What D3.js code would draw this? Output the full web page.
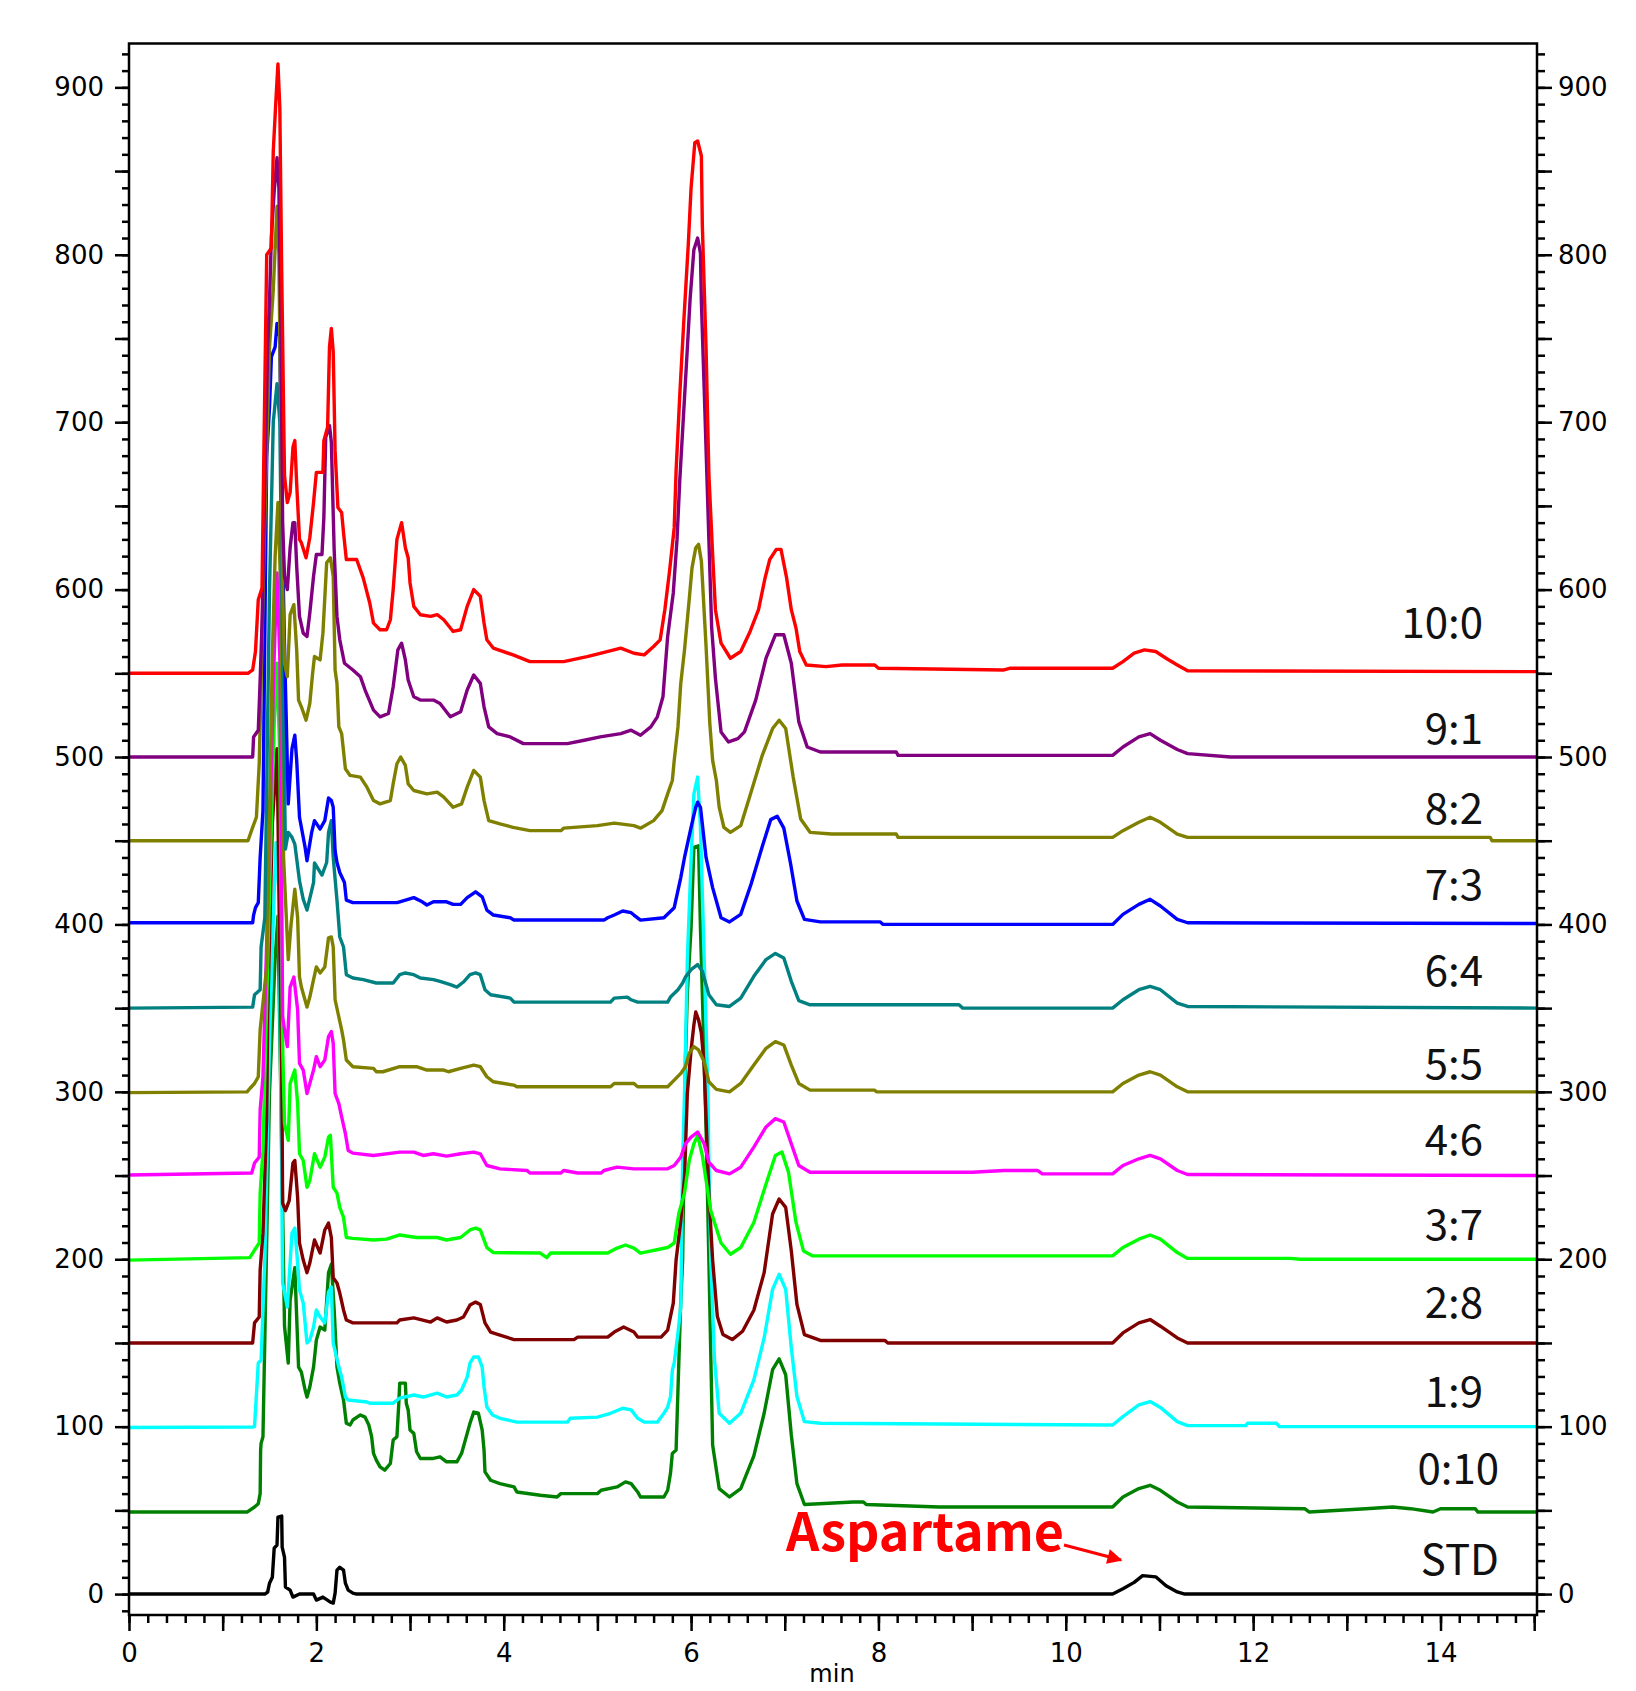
<!DOCTYPE html>
<html>
<head>
<meta charset="utf-8">
<script src="https://cdn.jsdelivr.net/npm/d3@7"></script>
<style>
  body { margin: 0; background: white; }
  svg { display: block; }
</style>
</head>
<body>
<script>
// Chromatogram data: [time (min), signal] for each sample, offset by 50 per trace

const t10_0 = [[0,550],[1.27,550],[1.32,552],[1.35,563],[1.38,594],[1.42,601],[1.44,683],[1.47,800],[1.52,804],[1.54,862],[1.57,894],[1.59,914],[1.61,888],[1.63,790],[1.66,668],[1.69,652],[1.72,658],[1.75,685],[1.77,689],[1.79,663],[1.82,630],[1.84,628],[1.89,619],[1.93,631],[1.97,652],[2.0,670],[2.07,670],[2.08,689],[2.12,697],[2.14,745],[2.16,756],[2.18,742],[2.2,683],[2.23,649],[2.27,646],[2.29,634],[2.32,618],[2.43,618],[2.5,607],[2.57,592],[2.61,580],[2.68,576],[2.75,576],[2.79,582],[2.82,600],[2.86,630],[2.91,640],[2.95,625],[2.98,619],[3.0,604],[3.04,590],[3.11,585],[3.22,584],[3.29,585],[3.36,582],[3.46,575],[3.54,576],[3.61,590],[3.68,600],[3.75,596],[3.79,580],[3.82,570],[3.89,565],[4.1,561],[4.28,557],[4.64,557],[4.89,560],[5.04,562],[5.25,565],[5.39,562],[5.5,561],[5.6,566],[5.67,570],[5.72,588],[5.77,611],[5.82,637],[5.84,671],[5.88,717],[5.92,758],[5.97,806],[6.0,840],[6.04,867],[6.07,868],[6.11,859],[6.12,818],[6.16,744],[6.19,669],[6.23,621],[6.26,588],[6.32,568],[6.42,559],[6.53,563],[6.63,575],[6.72,588],[6.79,607],[6.84,618],[6.91,624],[6.96,624],[7.02,607],[7.07,588],[7.12,577],[7.16,563],[7.23,555],[7.44,554],[7.61,555],[7.96,555],[8.0,553],[9.34,552],[9.4,553],[10.5,553],[10.61,557],[10.73,562],[10.84,564],[10.96,563],[11.07,559],[11.19,555],[11.3,551.5],[15.1,551]];

const t9_1 = [[0,500],[1.32,500],[1.33,512],[1.38,516],[1.4,546],[1.42,580],[1.48,745],[1.5,773],[1.52,811],[1.55,838],[1.58,858],[1.6,840],[1.62,760],[1.64,640],[1.66,608],[1.69,600],[1.72,625],[1.75,640],[1.77,640],[1.79,614],[1.82,584],[1.86,574],[1.9,572],[1.93,586],[1.97,608],[2.0,621],[2.06,621],[2.08,643],[2.1,691],[2.14,698],[2.16,688],[2.19,624],[2.22,584],[2.25,570],[2.3,556],[2.39,552],[2.47,548],[2.52,540],[2.61,528],[2.68,524],[2.77,526],[2.82,542],[2.87,564],[2.91,568],[2.95,558],[2.98,546],[3.04,536],[3.11,534],[3.25,534],[3.32,532],[3.43,524],[3.54,527],[3.61,540],[3.68,549],[3.75,544],[3.79,530],[3.84,518],[3.93,514],[4.07,512],[4.21,508],[4.68,508],[4.86,510],[5.03,512],[5.25,514],[5.36,516],[5.46,513],[5.57,518],[5.64,524],[5.7,536],[5.75,572],[5.81,598],[5.85,630],[5.88,666],[5.92,705],[5.96,744],[5.99,774],[6.03,803],[6.07,810],[6.1,801],[6.11,772],[6.14,720],[6.19,630],[6.22,577],[6.26,547],[6.32,515],[6.4,509],[6.5,511],[6.57,515],[6.69,534],[6.8,559],[6.9,573],[6.99,573],[7.07,556],[7.15,521],[7.24,506],[7.38,503],[8.19,503],[8.21,501],[10.5,501],[10.61,506],[10.78,512],[10.9,514],[11.01,510],[11.19,504.5],[11.3,502],[11.76,500],[15.1,500]];

const t8_2 = [[0,450],[1.27,450],[1.32,458],[1.36,464],[1.39,496],[1.41,544],[1.44,620],[1.5,745],[1.54,779],[1.58,829],[1.6,800],[1.62,700],[1.64,600],[1.66,556],[1.69,548],[1.72,585],[1.76,591],[1.79,564],[1.81,534],[1.84,530],[1.89,522],[1.93,532],[1.96,550],[1.98,560],[2.04,558],[2.07,574],[2.11,616],[2.15,619],[2.18,608],[2.2,552],[2.22,544],[2.24,518],[2.27,514],[2.31,493],[2.36,489],[2.47,488],[2.54,482],[2.61,474],[2.68,472],[2.79,474],[2.82,484],[2.86,496],[2.9,500],[2.95,495],[2.98,484],[3.04,480],[3.18,478],[3.29,479],[3.36,476],[3.46,470],[3.55,472],[3.61,482],[3.68,492],[3.75,488],[3.79,474],[3.84,462],[3.96,460],[4.1,458],[4.28,456],[4.61,456],[4.64,457.5],[5.0,459],[5.18,460.5],[5.39,459],[5.46,457.5],[5.6,462],[5.69,468],[5.75,478],[5.8,486],[5.82,498],[5.86,518],[5.89,544],[5.93,564],[5.98,594],[6.01,613],[6.05,625],[6.08,627],[6.11,617],[6.16,566],[6.2,520],[6.23,498],[6.27,486],[6.3,470],[6.35,458],[6.42,455],[6.53,459],[6.64,479],[6.76,501],[6.87,517],[6.94,522],[7.01,517],[7.09,488],[7.17,463],[7.27,455],[7.5,454],[8.19,454],[8.21,452],[10.5,452],[10.61,456],[10.78,461],[10.9,464],[11.01,461],[11.19,454],[11.3,452],[14.53,452],[14.55,450],[15.1,450]];

const t7_3 = [[0,401],[1.32,401],[1.33,405.6],[1.35,410],[1.38,413],[1.4,440],[1.43,468],[1.47,680],[1.5,709],[1.52,739],[1.56,745],[1.58,759],[1.61,751],[1.63,650],[1.66,566],[1.7,472],[1.74,505],[1.77,513],[1.79,498],[1.82,464],[1.88,446],[1.9,438],[1.95,455],[1.98,462],[2.04,457],[2.09,462],[2.13,475.5],[2.16,474],[2.18,470],[2.2,444],[2.22,437],[2.25,431],[2.3,425],[2.32,414.5],[2.39,413],[2.86,413],[2.89,413.5],[3.04,416],[3.13,413.5],[3.18,411.6],[3.25,413.5],[3.39,413.5],[3.46,412],[3.54,412],[3.61,416],[3.7,419.5],[3.77,416.5],[3.82,408.6],[3.89,405.6],[4.07,404],[4.11,402.6],[5.07,402.6],[5.11,404],[5.18,405.6],[5.27,408],[5.36,407],[5.39,405.6],[5.46,402.6],[5.71,404],[5.82,410],[5.89,428],[5.93,440],[6.0,458],[6.05,470],[6.07,473],[6.1,470],[6.16,440],[6.23,422],[6.32,404],[6.41,401.5],[6.53,406],[6.64,424],[6.76,446.5],[6.85,462.6],[6.92,464.6],[6.99,457.5],[7.06,437],[7.13,414],[7.21,403],[7.38,401.5],[8.02,401.5],[8.05,400],[10.5,400],[10.61,406],[10.78,412],[10.9,415],[11.01,411],[11.19,403],[11.3,401],[15.1,400.5]];

const t6_4 = [[0,350],[1.32,350.6],[1.34,358],[1.4,361],[1.41,386.5],[1.45,404],[1.5,600],[1.54,700],[1.58,723],[1.61,700],[1.64,560],[1.67,445],[1.7,455],[1.74,452],[1.77,448],[1.82,426],[1.86,415],[1.9,408.6],[1.97,425],[1.98,436.7],[2.06,429.5],[2.11,437],[2.13,455],[2.16,462],[2.18,440],[2.22,414.6],[2.25,392.5],[2.29,386.5],[2.32,370],[2.39,368],[2.5,367],[2.64,365],[2.82,365],[2.89,370],[2.95,371],[3.04,370],[3.11,368],[3.25,367],[3.32,366],[3.43,364],[3.5,362.6],[3.57,365.6],[3.64,370],[3.7,371],[3.75,370],[3.8,361],[3.86,358],[4.07,356],[4.11,353.6],[5.14,353.6],[5.18,356],[5.32,356.6],[5.36,355],[5.43,353.6],[5.75,353.6],[5.78,356.6],[5.86,361],[5.91,365],[5.94,368.6],[6.0,373],[6.07,376],[6.12,372],[6.19,358],[6.27,352],[6.41,351],[6.53,356],[6.67,369],[6.8,379],[6.9,382.7],[6.99,380],[7.07,366],[7.15,354.5],[7.27,352],[8.86,352],[8.9,350],[10.5,350],[10.61,355],[10.78,361],[10.9,363],[11.01,361],[11.19,353],[11.3,351],[15.1,350]];

const t5_5 = [[0,299.5],[1.26,300],[1.29,302],[1.34,305],[1.38,309],[1.4,337],[1.43,353],[1.47,374.6],[1.53,560],[1.56,620],[1.59,652],[1.62,600],[1.65,440],[1.7,379],[1.73,400],[1.77,421],[1.8,404],[1.82,368.6],[1.84,362.6],[1.9,350.6],[1.93,356.6],[1.97,367],[2.0,374.6],[2.04,371],[2.09,374.6],[2.13,392],[2.16,392.5],[2.18,386.5],[2.2,355],[2.24,344.7],[2.27,337],[2.29,331],[2.32,319],[2.39,315],[2.61,314],[2.64,312],[2.71,312],[2.89,315],[3.07,315],[3.18,313],[3.36,313],[3.41,312],[3.54,314],[3.68,316],[3.75,315],[3.82,309],[3.89,306],[4.11,304],[4.14,303],[5.14,303],[5.18,305],[5.39,305],[5.43,303],[5.75,303],[5.82,307],[5.89,311],[5.94,315],[5.98,323],[6.03,327],[6.08,325],[6.14,318],[6.19,306],[6.27,301.5],[6.41,300],[6.53,305],[6.67,316],[6.8,326],[6.9,330],[6.99,328],[7.07,316],[7.15,305],[7.27,301],[7.96,301],[7.98,300],[10.5,300],[10.61,305],[10.78,310],[10.9,312],[11.01,310],[11.19,303],[11.3,300],[15.1,300]];

const t4_6 = [[0,250.3],[1.31,251.5],[1.34,257.5],[1.39,261],[1.4,289],[1.43,309],[1.5,450],[1.55,560],[1.58,610],[1.61,560],[1.64,345],[1.66,337],[1.69,327],[1.72,362.6],[1.76,368.6],[1.8,349],[1.82,317],[1.86,313],[1.9,299],[1.93,305],[1.97,313],[2.0,321],[2.04,315],[2.09,319],[2.13,333],[2.16,336],[2.18,329],[2.2,299],[2.24,293],[2.27,285],[2.31,275],[2.34,265],[2.39,263.4],[2.61,262],[2.89,264],[3.04,264],[3.14,262],[3.25,263],[3.39,261.6],[3.54,263],[3.68,264],[3.75,263],[3.82,256],[3.96,254],[4.25,253],[4.28,251.5],[4.61,251.5],[4.64,253],[4.79,251.5],[5.04,251.5],[5.07,253],[5.21,255],[5.39,254],[5.75,254],[5.82,256],[5.89,261],[5.94,269],[6.0,273],[6.07,276],[6.14,269],[6.19,258],[6.27,253],[6.41,251],[6.53,255],[6.67,267],[6.8,279],[6.9,284],[6.99,282],[7.07,269],[7.15,256],[7.27,252],[9.0,252],[9.34,253],[9.7,253],[9.75,251],[10.5,251],[10.61,256],[10.78,260],[10.9,262],[11.01,260],[11.19,253],[11.3,250.6],[15.1,250]];

const t3_7 = [[0,199.5],[1.29,201],[1.34,205.5],[1.39,209.7],[1.4,239.5],[1.43,265],[1.5,420],[1.55,520],[1.58,556],[1.61,500],[1.64,327],[1.66,281],[1.7,271],[1.72,305],[1.77,313],[1.8,293],[1.82,263],[1.86,259],[1.9,243],[1.93,247],[1.98,263],[2.04,255],[2.09,261],[2.13,273],[2.15,274],[2.18,243],[2.22,239.5],[2.25,231],[2.29,225],[2.32,213],[2.39,212.5],[2.61,211.5],[2.75,212],[2.89,214.5],[3.07,213],[3.29,213],[3.39,211.5],[3.54,213],[3.64,217.5],[3.7,218.6],[3.75,217.5],[3.82,207],[3.89,204],[4.39,203.7],[4.46,201],[4.5,203.7],[5.11,203.7],[5.21,206.7],[5.3,208.5],[5.39,206.7],[5.46,203.7],[5.75,207],[5.82,209.7],[5.87,227.6],[5.93,239.5],[5.98,259],[6.03,269],[6.07,274],[6.12,262],[6.21,229],[6.32,209.7],[6.42,203],[6.53,207],[6.67,222],[6.8,245],[6.9,262],[6.97,264],[7.04,252],[7.12,222],[7.2,205],[7.3,202],[10.5,202],[10.61,207],[10.78,212],[10.9,214.5],[11.01,212],[11.19,204],[11.3,200.5],[12.4,200.5],[12.5,200],[15.1,200]];

const t2_8 = [[0,150],[1.32,150],[1.34,162],[1.39,165.5],[1.4,193.5],[1.43,215.6],[1.47,285],[1.48,345],[1.53,460],[1.58,505],[1.61,385],[1.63,315],[1.64,233.5],[1.67,229],[1.71,235],[1.75,257.5],[1.77,259],[1.8,237],[1.82,209.7],[1.86,199.5],[1.9,192],[1.93,197.7],[1.98,211.5],[2.04,203.7],[2.09,217.5],[2.13,221.6],[2.16,213],[2.18,189],[2.22,185.8],[2.25,179.8],[2.29,169.7],[2.32,163.7],[2.39,162],[2.86,162],[2.89,163.7],[3.04,165],[3.22,162.5],[3.29,165],[3.39,162.5],[3.5,163.7],[3.57,165.5],[3.64,172.6],[3.7,174.4],[3.75,173],[3.8,162],[3.86,156.5],[3.96,154.7],[4.11,152],[4.75,152],[4.79,153.5],[5.11,153.5],[5.18,156.5],[5.28,159.5],[5.39,156.5],[5.43,153.5],[5.68,153.5],[5.75,157.7],[5.81,173.8],[5.84,199.5],[5.89,223],[5.93,249],[5.96,299],[6.0,325],[6.03,340],[6.05,347.7],[6.08,343],[6.11,335],[6.14,315],[6.19,239.5],[6.23,199.5],[6.28,166],[6.34,155],[6.44,152],[6.55,157],[6.67,169.5],[6.78,192],[6.87,227],[6.94,236],[7.01,231],[7.07,205],[7.13,173],[7.21,155],[7.38,151.5],[8.07,151.5],[8.1,150],[10.5,150],[10.61,156],[10.78,162],[10.9,164],[11.01,160],[11.19,153],[11.3,150],[15.1,150]];

const t1_9 = [[0,99.5],[1.32,99.8],[1.34,100],[1.38,138],[1.41,139.8],[1.45,200],[1.5,330],[1.55,420],[1.57,449],[1.6,420],[1.63,250],[1.64,185.8],[1.69,171.5],[1.74,215.6],[1.77,218.6],[1.8,197.7],[1.82,181.6],[1.86,173.8],[1.9,150],[1.93,151.7],[1.97,159.5],[2.0,169.7],[2.04,165.5],[2.09,162],[2.13,180.4],[2.16,183.4],[2.18,150],[2.24,135.6],[2.27,129.6],[2.31,117.7],[2.34,115.9],[2.54,114.7],[2.57,114],[2.82,114],[2.89,117],[3.04,118.9],[3.14,117.7],[3.29,120],[3.39,117.7],[3.5,118.9],[3.55,121.9],[3.61,129.6],[3.64,138],[3.68,141.6],[3.73,141.6],[3.77,135.6],[3.79,123.7],[3.82,111.7],[3.88,107],[3.96,105],[4.14,102.7],[4.68,102.7],[4.71,105],[5.0,105.7],[5.14,108],[5.27,111],[5.36,110],[5.43,105],[5.5,102.7],[5.64,102.7],[5.71,108],[5.75,111.7],[5.78,117.7],[5.8,133.8],[5.82,138],[5.86,156],[5.89,171.5],[5.91,259],[5.93,299],[5.96,379],[6.0,438],[6.03,478],[6.07,488],[6.1,458],[6.12,419],[6.16,339],[6.18,299],[6.19,259],[6.21,200],[6.25,140],[6.3,108],[6.41,102],[6.53,108],[6.67,128],[6.78,153],[6.87,182],[6.94,191],[7.01,182],[7.07,147],[7.13,118],[7.21,103],[7.38,102],[10.5,101],[10.61,106],[10.78,113],[10.9,115],[11.01,111.5],[11.19,103],[11.3,100.6],[11.92,100.6],[11.94,102],[12.25,102],[12.28,100],[15.1,100]];

const t0_10 = [[0,49],[1.26,49],[1.34,52],[1.38,54],[1.4,60],[1.405,86],[1.41,90],[1.43,94],[1.5,300],[1.56,380],[1.59,405],[1.62,300],[1.66,160],[1.7,138],[1.72,175.6],[1.77,195],[1.81,135.6],[1.84,132.6],[1.88,121.9],[1.9,117.7],[1.93,123.7],[1.97,135.6],[2.0,151.7],[2.04,159.5],[2.09,157.7],[2.13,192],[2.16,197],[2.19,170],[2.22,135.6],[2.25,126],[2.29,115.9],[2.32,102],[2.36,101],[2.39,104],[2.47,107],[2.52,105.7],[2.56,101],[2.59,94],[2.61,84],[2.64,80],[2.68,76],[2.73,74],[2.79,78],[2.82,92],[2.86,94],[2.88,114],[2.89,126],[2.95,126],[2.96,114],[2.98,110],[3.0,98],[3.04,96],[3.07,85],[3.11,81],[3.25,81],[3.32,82],[3.39,79],[3.5,79],[3.55,84],[3.61,96],[3.64,102],[3.68,108.7],[3.73,108],[3.77,98],[3.79,86],[3.8,73],[3.86,68],[3.96,66],[4.11,64],[4.14,61],[4.39,59],[4.57,58],[4.61,60],[5.0,60],[5.04,62],[5.21,64],[5.3,67],[5.36,66],[5.43,61],[5.46,58],[5.71,58],[5.75,62],[5.78,72],[5.8,84],[5.84,86],[5.86,122],[5.89,175.6],[5.91,199.5],[5.93,279],[5.94,319],[5.96,359],[6.0,398],[6.03,446],[6.08,447],[6.1,398],[6.12,359],[6.16,279],[6.19,199.5],[6.23,89],[6.3,63],[6.41,58],[6.53,63],[6.67,82.5],[6.78,108],[6.87,134],[6.94,140.5],[7.01,131],[7.07,95],[7.13,66],[7.21,53.5],[7.73,55],[7.84,55],[7.87,53.5],[8.65,52],[10.5,52],[10.61,58],[10.78,63],[10.9,65],[11.01,62],[11.19,55],[11.3,52],[12.55,51],[12.6,49],[13.2,51],[13.49,52],[13.68,51],[13.92,49],[14.0,51],[14.37,51],[14.4,49],[15.1,49]];

const tSTD = [[0,0],[1.45,0],[1.48,1.2],[1.5,6.5],[1.53,10],[1.55,27.5],[1.58,29.3],[1.59,46],[1.63,46.6],[1.635,28],[1.66,22],[1.67,4.2],[1.72,2.4],[1.75,-1.8],[1.82,0],[1.97,0],[2.0,-3.6],[2.07,-1.8],[2.15,-4.8],[2.18,-5.4],[2.2,0.6],[2.22,14.3],[2.25,16],[2.29,14.3],[2.31,6.5],[2.34,2.4],[2.39,0.6],[2.43,0],[10.5,0],[10.61,3.2],[10.73,7],[10.82,11],[10.96,10.3],[11.07,5],[11.19,1.3],[11.27,0],[15.1,0]];

const seriesNames = ["10:0", "9:1", "8:2", "7:3", "6:4", "5:5", "4:6", "3:7", "2:8", "1:9", "0:10", "STD"];
const seriesData = [t10_0, t9_1, t8_2, t7_3, t6_4, t5_5, t4_6, t3_7, t2_8, t1_9, t0_10, tSTD];
const seriesBase = [550, 500, 450, 400, 350, 300, 250, 200, 150, 100, 50, 0];

const yLabelTicks = d3.range(0, 901, 100);
const xLabelTicks = d3.range(0, 15, 2);

const annotation = "Aspartame";
const xTitle = "min";

// Layout
const outerWidth = 1636;
const outerHeight = 1691;
const plot = {left: 129, right: 1537, top: 43.5, bottom: 1615};

const colors = ["#ff0000", "#800080", "#808000", "#0000ff", "#008080", "#808000",
                "#ff00ff", "#00ff00", "#800000", "#00ffff", "#008000", "#000000"];

// label position: right edge x and gap above the trace baseline (px)
const labelRight = [1483, 1483, 1483, 1483, 1483, 1483, 1483, 1483, 1483, 1483, 1499, 1499];
const labelGap = [35, 13, 17, 24, 22, 13, 21, 19, 25, 20, 26, 19];

const svg = d3.select("body").append("svg")
    .attr("width", outerWidth)
    .attr("height", outerHeight)
    .style("background", "white");

// Scales
const xScale = d3.scaleLinear()
    .domain([0, 15.03])
    .range([plot.left, plot.right]);

const yScale = d3.scaleLinear()
    .domain([-12.5, 926.2])
    .range([plot.bottom, plot.top]);

const tickFont = "'DejaVu Sans', sans-serif";

// Axes helper: draws a tick set without the domain line
let drawAxis = (axis, transform, withLabels) => {
    const g = svg.append("g")
        .attr("transform", transform)
        .call(axis);
    g.select(".domain").remove();
    g.selectAll(".tick line").attr("stroke", "#000").attr("stroke-width", 2.5);
    if (withLabels) {
        g.selectAll(".tick text")
            .style("font-family", tickFont)
            .style("font-size", "26px")
            .attr("fill", "#000");
    } else {
        g.selectAll(".tick text").remove();
    }
    return g;
};

// Y axis left
drawAxis(d3.axisLeft(yScale).tickValues(d3.range(-10, 921, 10)).tickSize(7).tickFormat(""),
    `translate(${plot.left},0)`, false);
drawAxis(d3.axisLeft(yScale).tickValues(d3.range(50, 901, 100)).tickSize(14).tickFormat(""),
    `translate(${plot.left},0)`, false);
drawAxis(d3.axisLeft(yScale).tickValues(yLabelTicks).tickSize(14).tickPadding(11).tickFormat(d3.format("d")),
    `translate(${plot.left},0)`, true);

// Y axis right
drawAxis(d3.axisRight(yScale).tickValues(d3.range(-10, 921, 10)).tickSize(8).tickFormat(""),
    `translate(${plot.right},0)`, false);
drawAxis(d3.axisRight(yScale).tickValues(d3.range(50, 901, 100)).tickSize(15).tickFormat(""),
    `translate(${plot.right},0)`, false);
drawAxis(d3.axisRight(yScale).tickValues(yLabelTicks).tickSize(15).tickPadding(6).tickFormat(d3.format("d")),
    `translate(${plot.right},0)`, true);

// X axis bottom
drawAxis(d3.axisBottom(xScale).tickValues(d3.range(0, 15.01, 0.2)).tickSize(8).tickFormat(""),
    `translate(0,${plot.bottom})`, false);
drawAxis(d3.axisBottom(xScale).tickValues(d3.range(1, 16, 2)).tickSize(16).tickFormat(""),
    `translate(0,${plot.bottom})`, false);
drawAxis(d3.axisBottom(xScale).tickValues(xLabelTicks).tickSize(16).tickPadding(13).tickFormat(d3.format("d")),
    `translate(0,${plot.bottom})`, true);

// Clip for traces
svg.append("defs").append("clipPath")
    .attr("id", "plot-clip")
    .append("rect")
    .attr("x", plot.left)
    .attr("y", plot.top)
    .attr("width", plot.right - plot.left)
    .attr("height", plot.bottom - plot.top);

const line = d3.line()
    .x(d => xScale(d[0]))
    .y(d => yScale(d[1]));

const traces = svg.append("g").attr("clip-path", "url(#plot-clip)");

// draw from bottom (STD) up so the red trace sits on top
for (let i = seriesData.length - 1; i >= 0; i--) {
    traces.append("path")
        .datum(seriesData[i])
        .attr("fill", "none")
        .attr("stroke", colors[i])
        .attr("stroke-width", 3.4)
        .attr("stroke-linejoin", "round")
        .attr("d", line);
}

// Frame
svg.append("rect")
    .attr("x", plot.left)
    .attr("y", plot.top)
    .attr("width", plot.right - plot.left)
    .attr("height", plot.bottom - plot.top)
    .attr("fill", "none")
    .attr("stroke", "#000")
    .attr("stroke-width", 2.5);

// Trace labels
seriesNames.forEach((name, i) => {
    svg.append("text")
        .text(name)
        .attr("x", labelRight[i])
        .attr("y", yScale(seriesBase[i]) - labelGap[i])
        .style("text-anchor", "end")
        .style("font-family", "'Noto Sans CJK JP', 'Noto Sans', sans-serif")
        .style("font-size", "42px")
        .attr("fill", "#111");
});

// Aspartame annotation with arrow
svg.append("defs").append("marker")
    .attr("id", "arrowhead")
    .attr("viewBox", "0 0 10 10")
    .attr("refX", 9)
    .attr("refY", 5)
    .attr("markerWidth", 6)
    .attr("markerHeight", 5)
    .attr("orient", "auto")
    .attr("markerUnits", "strokeWidth")
    .append("path")
    .attr("d", "M0,0 L10,5 L0,10 z")
    .attr("fill", "#ff0000");

svg.append("text")
    .text(annotation)
    .attr("x", 786)
    .attr("y", 1551)
    .style("font-family", "'Noto Sans CJK JP', 'Noto Sans', sans-serif")
    .style("font-weight", "bold")
    .style("font-size", "52px")
    .attr("fill", "#ff0000");

svg.append("line")
    .attr("x1", 1064)
    .attr("y1", 1545)
    .attr("x2", 1121)
    .attr("y2", 1560)
    .attr("stroke", "#ff0000")
    .attr("stroke-width", 3)
    .attr("marker-end", "url(#arrowhead)");

// X title at the bottom edge
svg.append("text")
    .text(xTitle)
    .attr("x", 832)
    .attr("y", 1682)
    .style("text-anchor", "middle")
    .style("font-family", tickFont)
    .style("font-size", "24px")
    .attr("fill", "#000");
</script>
</body>
</html>
